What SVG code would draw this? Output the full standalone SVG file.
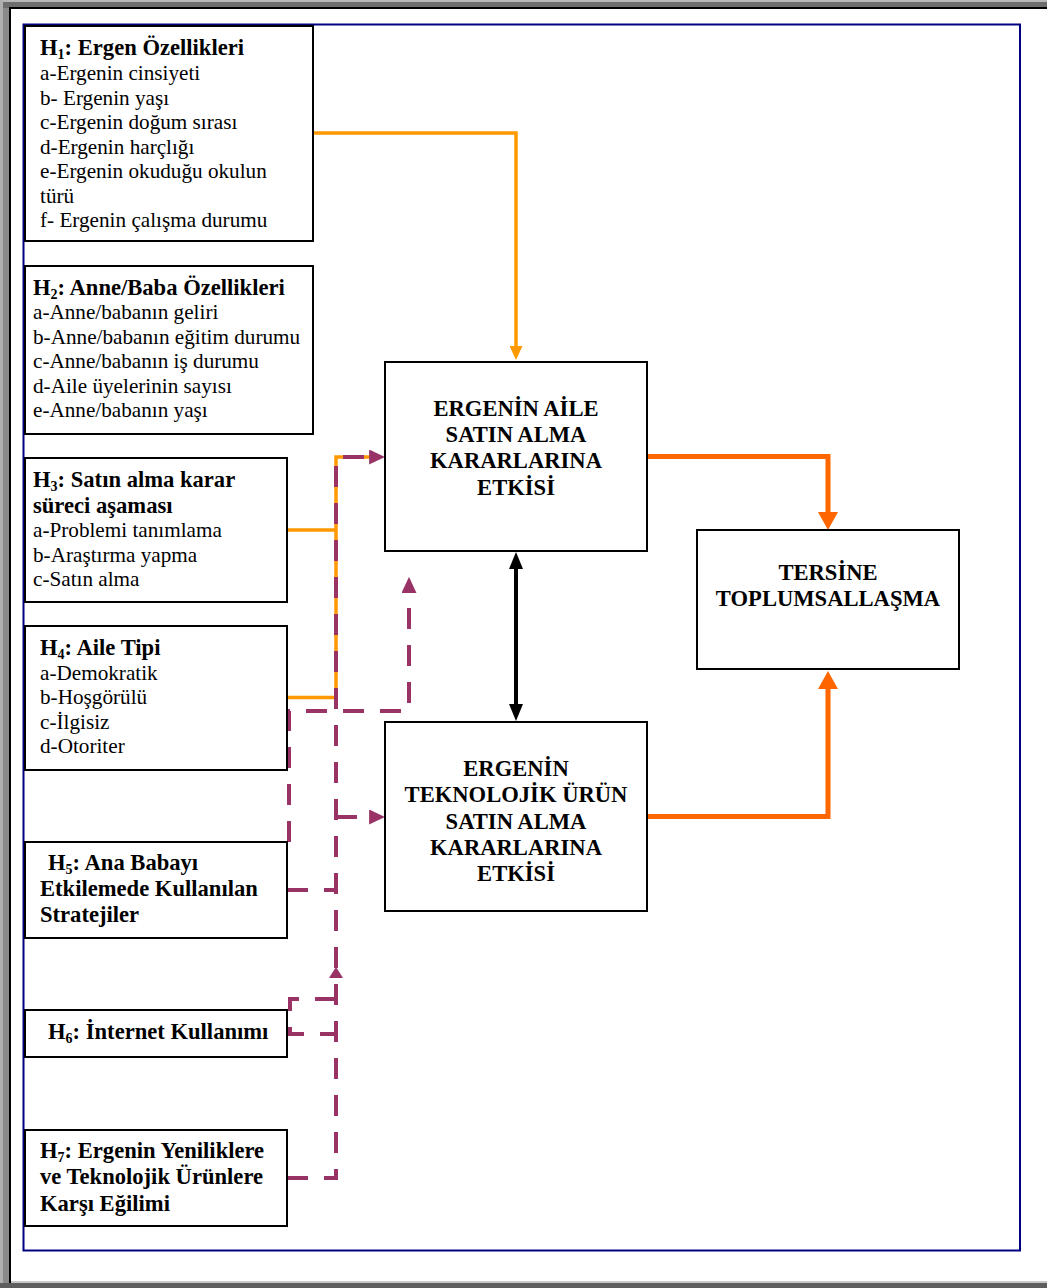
<svg xmlns="http://www.w3.org/2000/svg" width="1047" height="1288" viewBox="0 0 1047 1288">
<style>
.box{fill:#fff;stroke:#000;stroke-width:2}
.t{font-family:"Liberation Serif","Times New Roman",serif;font-size:21.2px;fill:#000}
.b{font-weight:bold;font-size:22.6px}
.c{font-weight:bold;font-size:22.6px;text-anchor:middle}
.org{stroke:#FF9900;stroke-width:3.5;fill:none}
.red{stroke:#FF6600;stroke-width:5;fill:none}
.blk{stroke:#000;stroke-width:4;fill:none}
.pur{stroke:#993366;stroke-width:4;fill:none;stroke-dasharray:21 16}
</style>
<defs>
<marker id="aOrg" viewBox="0 0 14 13" refX="0" refY="6.5" markerWidth="14" markerHeight="13" markerUnits="userSpaceOnUse" orient="auto"><path d="M0,0 L14,6.5 L0,13 z" fill="#FF9900"/></marker>
<marker id="aRed" viewBox="0 0 18 20" refX="0" refY="10" markerWidth="18" markerHeight="20" markerUnits="userSpaceOnUse" orient="auto"><path d="M0,0 L18,10 L0,20 z" fill="#FF6600"/></marker>
<marker id="aBlk" viewBox="0 0 17 14" refX="0" refY="7" markerWidth="17" markerHeight="14" markerUnits="userSpaceOnUse" orient="auto-start-reverse"><path d="M0,0 L17,7 L0,14 z" fill="#000"/></marker>
<marker id="aPur" viewBox="0 0 16 15" refX="0" refY="7.5" markerWidth="16" markerHeight="15" markerUnits="userSpaceOnUse" orient="auto"><path d="M0,0 L16,7.5 L0,15 z" fill="#993366"/></marker>
<marker id="aPurS" viewBox="0 0 11 14" refX="0" refY="7" markerWidth="11" markerHeight="14" markerUnits="userSpaceOnUse" orient="auto"><path d="M0,0 L11,7 L0,14 z" fill="#993366"/></marker>
</defs>
<g id="frame">
<rect x="0" y="0" width="1047" height="1288" fill="#8a8a8a"/>
<rect x="0" y="0" width="1047" height="2" fill="#b8b8b8"/>
<rect x="0" y="2" width="1047" height="6" fill="#6e6e6e"/>
<rect x="0" y="0" width="3" height="1288" fill="#b0b0b0"/>
<rect x="0" y="1283" width="1047" height="5" fill="#5e5e5e"/>
<rect x="9" y="7" width="1038" height="1276" fill="#000"/>
<rect x="11" y="9" width="1036" height="1272" fill="#fff"/>
<rect x="11" y="1281" width="1036" height="2" fill="#c8c8c8"/>
<rect x="23.5" y="24.5" width="996.5" height="1226" fill="none" stroke="#000080" stroke-width="2"/>
</g>
<g id="connectors">
<path class="org" d="M313,133 H516 V346" marker-end="url(#aOrg)"/>
<path class="org" d="M287,530 H336"/>
<path class="org" d="M287,697.5 H336 V457 H372"/>
<path class="blk" d="M516,569 V704" marker-start="url(#aBlk)" marker-end="url(#aBlk)"/>
<path class="red" d="M647,456.5 H828 V512" marker-end="url(#aRed)"/>
<path class="red" d="M647,816.5 H828 V689" marker-end="url(#aRed)"/>
<path class="pur" d="M287,1178 H336 V457 H369"/>
<path d="M369,457 h0.1" fill="none" stroke="none" marker-end="url(#aPur)"/>
<path class="pur" d="M336,817 H369"/>
<path d="M369,817 h0.1" fill="none" stroke="none" marker-end="url(#aPur)"/>
<path class="pur" d="M287,890 H336"/>
<path class="pur" d="M336,999 H290 V1034 H336"/>
<path d="M336,978 v-0.1" fill="none" stroke="none" marker-end="url(#aPurS)"/>
<path class="pur" d="M289,842 V711 H409 V593"/>
<path d="M409,593 v-0.1" fill="none" stroke="none" marker-end="url(#aPur)"/>
</g>
<g id="h1">
<rect class="box" x="25" y="26" width="288" height="215"/>
<text class="t b" x="40" y="55">H<tspan font-size="14" dy="4">1</tspan><tspan dy="-4">: Ergen Özellikleri</tspan></text>
<text class="t" x="40" y="80">a-Ergenin cinsiyeti</text>
<text class="t" x="40" y="104.5">b- Ergenin yaşı</text>
<text class="t" x="40" y="129">c-Ergenin doğum sırası</text>
<text class="t" x="40" y="153.5">d-Ergenin harçlığı</text>
<text class="t" x="40" y="178">e-Ergenin okuduğu okulun</text>
<text class="t" x="40" y="202.5">türü</text>
<text class="t" x="40" y="227">f- Ergenin çalışma durumu</text>
</g>
<g id="h2">
<rect class="box" x="25" y="266" width="288" height="168"/>
<text class="t b" x="33" y="295">H<tspan font-size="14" dy="4">2</tspan><tspan dy="-4">: Anne/Baba Özellikleri</tspan></text>
<text class="t" x="33" y="319">a-Anne/babanın geliri</text>
<text class="t" x="33" y="344">b-Anne/babanın eğitim durumu</text>
<text class="t" x="33" y="368">c-Anne/babanın iş durumu</text>
<text class="t" x="33" y="393">d-Aile üyelerinin sayısı</text>
<text class="t" x="33" y="417">e-Anne/babanın yaşı</text>
</g>
<g id="h3">
<rect class="box" x="25" y="458" width="262" height="144"/>
<text class="t b" x="33" y="487">H<tspan font-size="14" dy="4">3</tspan><tspan dy="-4">: Satın alma karar</tspan></text>
<text class="t b" x="33" y="513">süreci aşaması</text>
<text class="t" x="33" y="537">a-Problemi tanımlama</text>
<text class="t" x="33" y="562">b-Araştırma yapma</text>
<text class="t" x="33" y="586">c-Satın alma</text>
</g>
<g id="h4">
<rect class="box" x="25" y="626" width="262" height="144"/>
<text class="t b" x="40" y="655">H<tspan font-size="14" dy="4">4</tspan><tspan dy="-4">: Aile Tipi</tspan></text>
<text class="t" x="40" y="680">a-Demokratik</text>
<text class="t" x="40" y="704">b-Hoşgörülü</text>
<text class="t" x="40" y="729">c-İlgisiz</text>
<text class="t" x="40" y="753">d-Otoriter</text>
</g>
<g id="h5">
<rect class="box" x="25" y="842" width="262" height="96"/>
<text class="t b" x="48" y="870">H<tspan font-size="14" dy="4">5</tspan><tspan dy="-4">: Ana Babayı</tspan></text>
<text class="t b" x="40" y="896">Etkilemede Kullanılan</text>
<text class="t b" x="40" y="922">Stratejiler</text>
</g>
<g id="h6">
<rect class="box" x="25" y="1010" width="262" height="47"/>
<text class="t b" x="48" y="1039">H<tspan font-size="14" dy="4">6</tspan><tspan dy="-4">: İnternet Kullanımı</tspan></text>
</g>
<g id="h7">
<rect class="box" x="25" y="1130" width="262" height="96"/>
<text class="t b" x="40" y="1158">H<tspan font-size="14" dy="4">7</tspan><tspan dy="-4">: Ergenin Yeniliklere</tspan></text>
<text class="t b" x="40" y="1184">ve Teknolojik Ürünlere</text>
<text class="t b" x="40" y="1211">Karşı Eğilimi</text>
</g>
<g id="aile">
<rect class="box" x="385" y="362" width="262" height="189"/>
<text class="t c" x="516" y="416">ERGENİN AİLE</text>
<text class="t c" x="516" y="442">SATIN ALMA</text>
<text class="t c" x="516" y="468">KARARLARINA</text>
<text class="t c" x="516" y="495">ETKİSİ</text>
</g>
<g id="teknolojik">
<rect class="box" x="385" y="722" width="262" height="189"/>
<text class="t c" x="516" y="776">ERGENİN</text>
<text class="t c" x="516" y="802">TEKNOLOJİK ÜRÜN</text>
<text class="t c" x="516" y="829">SATIN ALMA</text>
<text class="t c" x="516" y="855">KARARLARINA</text>
<text class="t c" x="516" y="881">ETKİSİ</text>
</g>
<g id="tersine">
<rect class="box" x="697" y="530" width="262" height="139"/>
<text class="t c" x="828" y="580">TERSİNE</text>
<text class="t c" x="828" y="606">TOPLUMSALLAŞMA</text>
</g>
</svg>
